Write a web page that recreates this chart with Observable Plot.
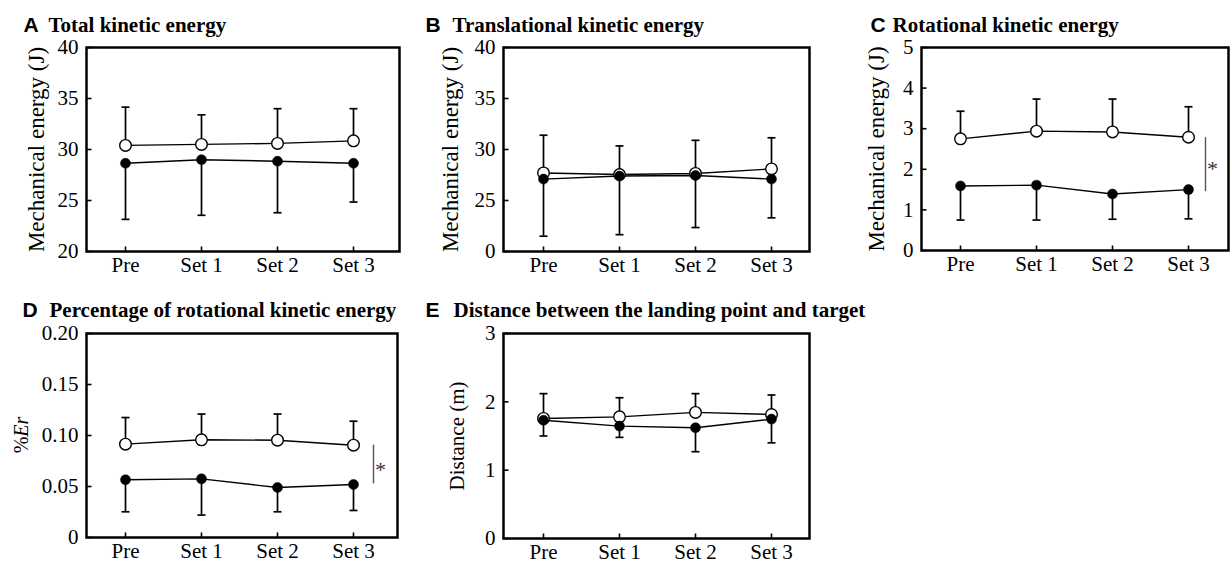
<!DOCTYPE html>
<html><head><meta charset="utf-8">
<script src="https://cdn.jsdelivr.net/npm/d3@7"></script>
<script src="https://cdn.jsdelivr.net/npm/@observablehq/plot@0.6"></script>
<style>
html,body{margin:0;padding:0;background:#fff;}
#root{position:relative;width:1231px;height:565px;overflow:hidden;background:#fff;}
#root > svg{position:absolute;margin:0;}
</style></head><body><div id="root"></div>
<script>
const categories = ["Pre", "Set 1", "Set 2", "Set 3"];

// A Total kinetic energy
const aOpenMean = [30.4, 30.5, 30.6, 30.85];
const aOpenUpper = [34.15, 33.4, 34.0, 34.0];
const aFilledMean = [28.65, 29.0, 28.85, 28.65];
const aFilledLower = [23.15, 23.55, 23.8, 24.85];
const aTicks = [20, 25, 30, 35, 40];
const aTickLabels = ["20", "25", "30", "35", "40"];

// B Translational kinetic energy
const bOpenMean = [27.7, 27.55, 27.65, 28.1];
const bOpenUpper = [31.4, 30.35, 30.9, 31.15];
const bFilledMean = [27.1, 27.4, 27.45, 27.1];
const bFilledLower = [21.5, 21.65, 22.35, 23.3];
const bTicks = [20, 25, 30, 35, 40];
const bTickLabels = ["0", "25", "30", "35", "40"];

// C Rotational kinetic energy
const cOpenMean = [2.75, 2.94, 2.92, 2.79];
const cOpenUpper = [3.43, 3.73, 3.73, 3.54];
const cFilledMean = [1.59, 1.61, 1.39, 1.50];
const cFilledLower = [0.75, 0.75, 0.77, 0.78];
const cTicks = [0, 1, 2, 3, 4, 5];
const cTickLabels = ["0", "1", "2", "3", "4", "5"];
const cSig = [2.78, 1.45];
const cStar = 2.0;

// D Percentage of rotational kinetic energy
const dOpenMean = [0.0915, 0.0958, 0.0954, 0.0905];
const dOpenUpper = [0.1176, 0.121, 0.121, 0.114];
const dFilledMean = [0.0566, 0.0575, 0.049, 0.052];
const dFilledLower = [0.0252, 0.022, 0.0252, 0.0265];
const dTicks = [0, 0.05, 0.10, 0.15, 0.20];
const dTickLabels = ["0", "0.05", "0.10", "0.15", "0.20"];
const dSig = [0.0905, 0.0526];
const dStar = 0.066;

// E Distance between the landing point and target
const eOpenMean = [1.757, 1.78, 1.845, 1.815];
const eOpenUpper = [2.12, 2.06, 2.12, 2.10];
const eFilledMean = [1.73, 1.645, 1.62, 1.747];
const eFilledLower = [1.50, 1.48, 1.27, 1.40];
const eTicks = [0, 1, 2, 3];
const eTickLabels = ["0", "1", "2", "3"];

const SERIF = "'Liberation Serif', 'Times New Roman', serif";
const SANS = "'Liberation Sans', Arial, sans-serif";
const tickUp = {draw(c) { c.moveTo(0, 0); c.lineTo(0, -5); }};
const tickRight = {draw(c) { c.moveTo(0, 0); c.lineTo(5, 0); }};
const cap = {draw(c) { c.moveTo(-4, 0); c.lineTo(4, 0); }};

function panel(p) {
  const open = categories.map((c, i) => ({cat: c, mean: p.openMean[i], end: p.openUpper[i]}));
  const filled = categories.map((c, i) => ({cat: c, mean: p.filledMean[i], end: p.filledLower[i]}));
  const marks = [
    Plot.axisX({tickSize: 0, tickPadding: 6, fontSize: 21, fontFamily: SERIF, fill: "black", label: null}),
    Plot.axisY({ticks: p.yTicks, tickFormat: d => p.yTickLabels[p.yTicks.indexOf(d)], tickSize: 0, tickPadding: 8, fontSize: 21, fontFamily: SERIF, fill: "black", label: null}),
    Plot.dot(categories, {x: d => d, frameAnchor: "bottom", symbol: tickUp, fill: "none", stroke: "black", strokeWidth: 1.6}),
    Plot.dot(p.yTicks, {y: d => d, frameAnchor: "left", symbol: tickRight, fill: "none", stroke: "black", strokeWidth: 1.6}),
    Plot.line(open, {x: "cat", y: "mean", stroke: "black", strokeWidth: 1.4}),
    Plot.line(filled, {x: "cat", y: "mean", stroke: "black", strokeWidth: 1.4}),
    Plot.ruleX(open, {x: "cat", y1: "mean", y2: "end", stroke: "black", strokeWidth: 1.7}),
    Plot.dot(open, {x: "cat", y: "end", symbol: cap, fill: "none", stroke: "black", strokeWidth: 1.7}),
    Plot.ruleX(filled, {x: "cat", y1: "mean", y2: "end", stroke: "black", strokeWidth: 1.7}),
    Plot.dot(filled, {x: "cat", y: "end", symbol: cap, fill: "none", stroke: "black", strokeWidth: 1.7}),
    Plot.dot(open, {x: "cat", y: "mean", r: 5.8, fill: "white", stroke: "black", strokeWidth: 1.4}),
    Plot.dot(filled, {x: "cat", y: "mean", r: 5, fill: "black", stroke: "black", strokeWidth: 0.5}),
    Plot.frame({stroke: "black", strokeWidth: 2.5}),
    Plot.text([p.letter], {frameAnchor: "top-left", text: d => d, dx: p.letterDx, dy: p.titleDy, lineAnchor: "bottom", textAnchor: "start", fontFamily: SANS, fontWeight: "bold", fontSize: 21, fill: "black"}),
    Plot.text([p.title], {frameAnchor: "top-left", text: d => d, dx: p.titleDx, dy: p.titleDy, lineAnchor: "bottom", textAnchor: "start", fontFamily: SERIF, fontWeight: "bold", fontSize: 21, fill: "black"})
  ];
  if (p.yLabel) {
    marks.push(Plot.text([p.yLabel], {frameAnchor: "left", text: d => d, rotate: -90, dx: p.labelDx, lineAnchor: "bottom", textAnchor: "middle", fontFamily: SERIF, fontSize: p.labelSize, fill: "black"}));
  }
  if (p.sig) {
    marks.push(Plot.ruleX([p.sig], {x: () => "Set 3", y1: d => d[0], y2: d => d[1], dx: p.sigDx, stroke: "#555", strokeWidth: 1.4}));
    marks.push(Plot.text(["*"], {x: () => "Set 3", y: () => p.star, text: d => d, dx: p.starDx, lineAnchor: "middle", fontFamily: SERIF, fontSize: 22, fill: "#333"}));
  }
  const svg = Plot.plot({
    width: p.width, height: p.height,
    marginLeft: p.mL, marginRight: p.mR, marginTop: p.mT, marginBottom: p.mB,
    style: {background: "transparent", overflow: "visible", fontFamily: SERIF, color: "black"},
    x: {type: "point", domain: categories, padding: p.padding, align: p.align},
    y: {domain: p.yDomain},
    marks
  });
  if (p.richLabel) {
    const cx = p.mL + p.labelDx;
    const cy = (p.mT + p.height - p.mB) / 2;
    const t = d3.select(svg).append("text")
      .attr("transform", `translate(${cx},${cy}) rotate(-90)`)
      .attr("text-anchor", "middle")
      .attr("font-family", SERIF)
      .attr("font-size", p.labelSize)
      .attr("fill", "black");
    t.append("tspan").text(p.richLabel[0]);
    t.append("tspan").attr("font-style", "italic").text(p.richLabel[1]);
  }
  svg.style.left = p.left + "px";
  svg.style.top = p.top + "px";
  document.getElementById("root").appendChild(svg);
}

panel({left: 0, top: 0, width: 410, height: 278, mL: 86, mR: 11, mT: 47, mB: 27,
  padding: 0.54, align: 0.46, yDomain: [20, 40], yTicks: aTicks, yTickLabels: aTickLabels,
  openMean: aOpenMean, openUpper: aOpenUpper, filledMean: aFilledMean, filledLower: aFilledLower,
  letter: "A", title: "Total kinetic energy", letterDx: -63, titleDx: -38, titleDy: -16,
  yLabel: "Mechanical energy (J)", labelDx: -43, labelSize: 23});

panel({left: 410, top: 0, width: 410, height: 278, mL: 93, mR: 11, mT: 47, mB: 27,
  padding: 0.5, align: 0.51, yDomain: [20, 40], yTicks: bTicks, yTickLabels: bTickLabels,
  openMean: bOpenMean, openUpper: bOpenUpper, filledMean: bFilledMean, filledLower: bFilledLower,
  letter: "B", title: "Translational kinetic energy", letterDx: -78, titleDx: -51, titleDy: -16,
  yLabel: "Mechanical energy (J)", labelDx: -46, labelSize: 23});

panel({left: 820, top: 0, width: 411, height: 278, mL: 101, mR: 3, mT: 47, mB: 28,
  padding: 0.5, align: 0.49, yDomain: [0, 5], yTicks: cTicks, yTickLabels: cTickLabels,
  openMean: cOpenMean, openUpper: cOpenUpper, filledMean: cFilledMean, filledLower: cFilledLower,
  letter: "C", title: "Rotational kinetic energy", letterDx: -51, titleDx: -29, titleDy: -16,
  yLabel: "Mechanical energy (J)", labelDx: -38, labelSize: 23,
  sig: cSig, sigDx: 17, star: cStar, starDx: 24});

panel({left: 0, top: 280, width: 410, height: 285, mL: 86, mR: 13, mT: 53, mB: 28,
  padding: 0.53, align: 0.47, yDomain: [0, 0.2], yTicks: dTicks, yTickLabels: dTickLabels,
  openMean: dOpenMean, openUpper: dOpenUpper, filledMean: dFilledMean, filledLower: dFilledLower,
  letter: "D", title: "Percentage of rotational kinetic energy", letterDx: -64, titleDx: -37, titleDy: -17,
  richLabel: ["%", "Er"], labelDx: -58, labelSize: 20,
  sig: dSig, sigDx: 20, star: dStar, starDx: 27});

panel({left: 410, top: 280, width: 410, height: 285, mL: 93, mR: 11, mT: 53, mB: 27,
  padding: 0.5, align: 0.51, yDomain: [0, 3], yTicks: eTicks, yTickLabels: eTickLabels,
  openMean: eOpenMean, openUpper: eOpenUpper, filledMean: eFilledMean, filledLower: eFilledLower,
  letter: "E", title: "Distance between the landing point and target", letterDx: -78, titleDx: -50, titleDy: -17,
  yLabel: "Distance (m)", labelDx: -40, labelSize: 21});
</script>
</body></html>
